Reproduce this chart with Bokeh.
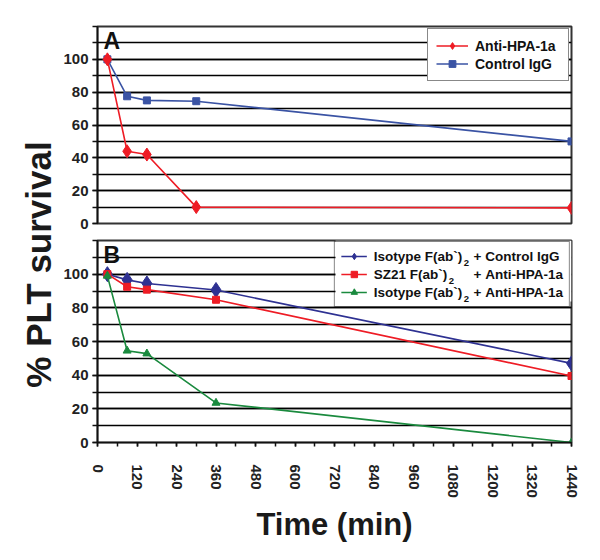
import math
from bokeh.plotting import figure
from bokeh.models import Range1d, FixedTicker, Legend, LegendItem, Label, BoxAnnotation
from bokeh.layouts import row, column
from bokeh.embed import file_html
from bokeh.resources import INLINE

# ---- data ----
times_a = [30, 90, 150, 300, 1440]
anti_hpa_a = [100, 44, 42, 10, 9.5]
control_igg_a = [100, 77.5, 75, 74.5, 50]

times_b = [30, 90, 150, 360, 1440]
iso_control_b = [100, 96.6, 94.5, 90.6, 47]
sz21_anti_b = [100, 92.5, 90.8, 84.8, 39.5]
iso_anti_b = [99, 54.5, 52.8, 23.5, 0]

x_ticks = list(range(0, 1441, 120))
x_minor_ticks = list(range(0, 1441, 60))
y_ticks = [0, 20, 40, 60, 80, 100]
y_minor_ticks = list(range(0, 121, 10))
X_MIN, X_MAX = 0, 1440
Y_MIN, Y_MAX = 0, 120

FONT = "Liberation Sans"
RED = "#EE1C25"
BLUE_A = "#3A53A4"
BLUE_B = "#2E3192"
GREEN = "#1A8A3E"
GRID = "#000000"

FRAME_W = 474          # px
FRAME_H_B = 202        # px


def style_panel(p, letter):
    p.background_fill_color = "white"
    p.border_fill_color = "white"
    p.outline_line_color = "#333333"
    p.outline_line_width = 2
    yax = p.yaxis[0]
    yax.ticker = FixedTicker(ticks=y_ticks, minor_ticks=y_minor_ticks)
    yax.major_tick_out = 5
    yax.major_tick_in = 0
    yax.minor_tick_out = 5
    yax.minor_tick_in = 0
    yax.major_tick_line_color = "#111111"
    yax.minor_tick_line_color = "#111111"
    yax.major_tick_line_width = 1.5
    yax.minor_tick_line_width = 1.5
    yax.axis_line_color = "#111111"
    yax.axis_line_width = 1.6
    yax.major_label_standoff = 4
    yax.major_label_text_font = FONT
    yax.major_label_text_font_style = "bold"
    yax.major_label_text_font_size = "15px"
    yax.major_label_text_color = "#222222"
    p.ygrid.grid_line_color = GRID
    p.ygrid.grid_line_width = 1.6
    p.ygrid.minor_grid_line_color = GRID
    p.ygrid.minor_grid_line_width = 1.6
    p.xgrid.grid_line_color = None
    p.add_layout(Label(x=X_MIN, y=Y_MAX, x_offset=6, y_offset=-1, text=letter,
                       text_font=FONT, text_font_style="bold",
                       text_font_size="23px", text_color="#111111",
                       text_baseline="top", text_align="left"))


def style_legend(lg, size):
    lg.label_text_font = FONT
    lg.label_text_font_style = "bold"
    lg.label_text_font_size = size
    lg.label_text_color = "#111111"
    lg.border_line_color = "#111111"
    lg.border_line_width = 1.5
    lg.background_fill_color = "white"
    lg.background_fill_alpha = 1.0


# ---- panel A ----
pA = figure(width=526, height=231, output_backend="svg", toolbar_location=None,
            x_range=Range1d(X_MIN, X_MAX), y_range=Range1d(Y_MIN, Y_MAX),
            x_axis_location=None,
            min_border_left=37, min_border_right=15,
            min_border_top=26, min_border_bottom=8)
style_panel(pA, "A")

la1 = pA.line(times_a, anti_hpa_a, line_color=RED, line_width=1.6)
ma1 = pA.scatter(times_a, anti_hpa_a, marker="diamond", size=13,
                 fill_color=RED, line_color=RED)
la2 = pA.line(times_a, control_igg_a, line_color=BLUE_A, line_width=1.6)
ma2 = pA.scatter(times_a, control_igg_a, marker="square", size=7,
                 fill_color=BLUE_A, line_color=BLUE_A)
pA.renderers = [la2, ma2, la1, ma1]

legA = Legend(items=[LegendItem(label="Anti-HPA-1a", renderers=[la1, ma1]),
                     LegendItem(label="Control IgG", renderers=[la2, ma2])],
              location="top_right", margin=2, padding=8,
              glyph_width=32, glyph_height=17, label_standoff=7,
              label_height=17, label_width=85, spacing=1)
style_legend(legA, "14px")
pA.add_layout(legA)

# ---- panel B ----
pB = figure(width=526, height=314, output_backend="svg", toolbar_location=None,
            x_range=Range1d(X_MIN, X_MAX), y_range=Range1d(Y_MIN, Y_MAX),
            min_border_left=37, min_border_right=15,
            min_border_top=9, min_border_bottom=103)
style_panel(pB, "B")
xax = pB.xaxis[0]
xax.ticker = FixedTicker(ticks=x_ticks, minor_ticks=x_minor_ticks)
xax.major_tick_out = 4
xax.major_tick_in = 0
xax.minor_tick_out = 4
xax.minor_tick_in = 0
xax.major_tick_line_color = "#111111"
xax.minor_tick_line_color = "#111111"
xax.major_tick_line_width = 1.5
xax.minor_tick_line_width = 1.5
xax.axis_line_color = "#111111"
xax.axis_line_width = 1.6
xax.major_label_orientation = -math.pi / 2
xax.major_label_standoff = 18
xax.major_label_text_font = FONT
xax.major_label_text_font_style = "bold"
xax.major_label_text_font_size = "15px"
xax.major_label_text_color = "#222222"
xax.axis_label = "Time (min)"
xax.axis_label_standoff = 6
xax.axis_label_text_font = FONT
xax.axis_label_text_font_style = "bold"
xax.axis_label_text_font_size = "31px"
xax.axis_label_text_color = "#1a1a1a"

lb1 = pB.line(times_b, iso_control_b, line_color=BLUE_B, line_width=1.6)
mb1 = pB.scatter(times_b, iso_control_b, marker="diamond", size=15,
                 fill_color=BLUE_B, line_color=BLUE_B)
lb2 = pB.line(times_b, sz21_anti_b, line_color=RED, line_width=1.6)
mb2 = pB.scatter(times_b, sz21_anti_b, marker="square", size=7,
                 fill_color=RED, line_color=RED)
lb3 = pB.line(times_b, iso_anti_b, line_color=GREEN, line_width=1.6)
mb3 = pB.scatter(times_b, iso_anti_b, marker="triangle", size=8,
                 fill_color=GREEN, line_color=GREEN)

# white backing for legend B (under the glyphs, over the grid lines)
LEG_B_W, LEG_B_H = 236, 61   # px
pB.add_layout(BoxAnnotation(left=X_MAX - LEG_B_W * (X_MAX - X_MIN) / FRAME_W,
                            right=X_MAX, top=Y_MAX,
                            bottom=Y_MAX - LEG_B_H * (Y_MAX - Y_MIN) / FRAME_H_B,
                            fill_color="white", fill_alpha=1.0, line_color=None,
                            level="underlay", propagate_hover=False))

NB = "\u00a0"
legB = Legend(items=[
    LegendItem(label="Isotype" + NB + "F(ab`)" + NB * 3 + "+" + NB + "Control" + NB + "IgG",
               renderers=[lb1, mb1]),
    LegendItem(label="SZ21" + NB + "F(ab`)" + NB * 7 + "+" + NB + "Anti-HPA-1a",
               renderers=[lb2, mb2]),
    LegendItem(label="Isotype" + NB + "F(ab`)" + NB * 3 + "+" + NB + "Anti-HPA-1a",
               renderers=[lb3, mb3])],
    location="top_right", margin=1, padding=6,
    glyph_width=26, glyph_height=16, label_standoff=7,
    label_height=16, label_width=150, spacing=2)
style_legend(legB, "13.5px")
legB.background_fill_alpha = 0.0
pB.add_layout(legB)

# subscript "2" of F(ab`)2 in the legend rows
sub_x = [-107.7, -122.7, -107.7]
for i, dx in enumerate(sub_x):
    pB.add_layout(Label(x=X_MAX, y=Y_MAX, x_offset=dx, y_offset=-(22.7 + 18 * i),
                        text="2", text_font=FONT, text_font_style="bold",
                        text_font_size="9.5px", text_color="#111111",
                        text_baseline="alphabetic", text_align="left",
                        level="overlay"))

# ---- shared y title ----
pT = figure(width=60, height=545, output_backend="svg", toolbar_location=None,
            x_range=Range1d(0, 60), y_range=Range1d(0, 545),
            x_axis_location=None, y_axis_location=None,
            min_border=0, min_border_left=0, min_border_right=0,
            min_border_top=0, min_border_bottom=0)
pT.outline_line_color = None
pT.grid.visible = False
pT.border_fill_color = "white"
pT.background_fill_color = "white"
pT.add_layout(Label(x=38, y=281, text="% PLT survival", angle=math.pi / 2,
                    text_align="center", text_baseline="middle",
                    text_font=FONT, text_font_style="bold",
                    text_font_size="35px", text_color="#1a1a1a"))

layout = row(pT, column(pA, pB))
open("out.html", "w").write(file_html(layout, INLINE))
